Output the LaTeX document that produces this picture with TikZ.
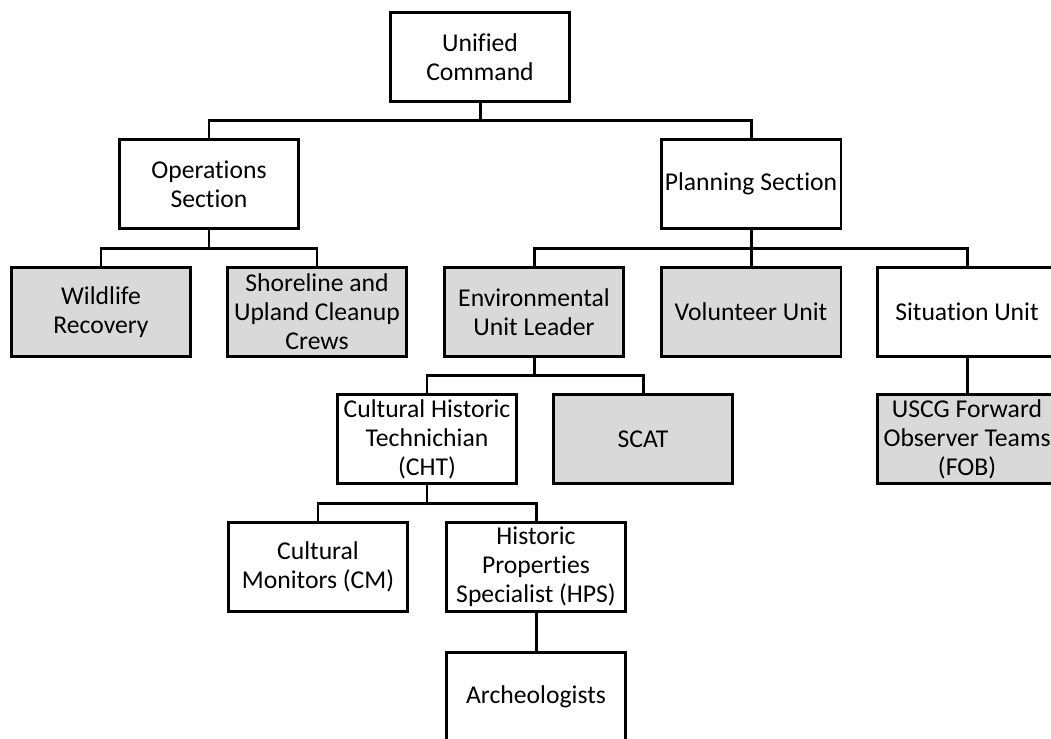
\documentclass[tikz,border=0pt]{standalone}
\usepackage{fontspec}
\setmainfont{Carlito}[Ligatures=NoCommon]
\usetikzlibrary{calc}

\begin{document}
\begin{tikzpicture}[x=0.02cm, y=-0.02cm, line width=1.7pt,
    box/.style={draw,rectangle,minimum width=3.6cm,minimum height=1.78cm,inner sep=1pt,align=center,
      font=\fontsize{14.6}{16.5}\selectfont},
    gbox/.style={box,fill=black!15},
    elbow/.style={to path={(\tikztostart) |- ($(\tikztostart)!0.5!(\tikztotarget)$) -| (\tikztotarget)}}]
    \clip (0,0) rectangle (1051,738);

    \node[box] (uc) at (480,57) {Unified\\Command};
    \node[box] (ops) at (209,184) {Operations\\Section};
    \node[box] (plan) at (751,184) {Planning Section};
    \node[gbox] (wild) at (101,312) {Wildlife\\Recovery};
    \node[gbox] (shore) at (317,312) {Shoreline and\\Upland Cleanup\\Crews};
    \node[gbox] (env) at (534,312) {Environmental\\Unit Leader};
    \node[gbox] (vol) at (751,312) {Volunteer Unit};
    \node[box] (sit) at (967,312) {Situation Unit};
    \node[box] (cht) at (427,439) {Cultural Historic\\Technichian\\(CHT)};
    \node[gbox] (scat) at (643,439) {SCAT};
    \node[gbox] (fob) at (967,439) {USCG Forward\\Observer Teams\\(FOB)};
    \node[box] (cm) at (318,567) {Cultural\\Monitors (CM)};
    \node[box] (hps) at (536,567) {Historic\\Properties\\Specialist (HPS)};
    \node[box] (arch) at (536,697) {Archeologists};

    \draw (uc.south) to[elbow] (ops.north);
    \draw (uc.south) to[elbow] (plan.north);

    \draw (ops.south) to[elbow] (wild.north);
    \draw (ops.south) to[elbow] (shore.north);

    \draw (plan.south) to[elbow] (env.north);
    \draw (plan.south) to[elbow] (vol.north);
    \draw (plan.south) to[elbow] (sit.north);

    \draw (env.south) to[elbow] (cht.north);
    \draw (env.south) to[elbow] (scat.north);
    \draw (sit.south) to (fob.north);

    \draw (cht.south) to[elbow] (cm.north);
    \draw (cht.south) to[elbow] (hps.north);
    \draw (hps.south) to (arch.north);

\end{tikzpicture}
\end{document}
